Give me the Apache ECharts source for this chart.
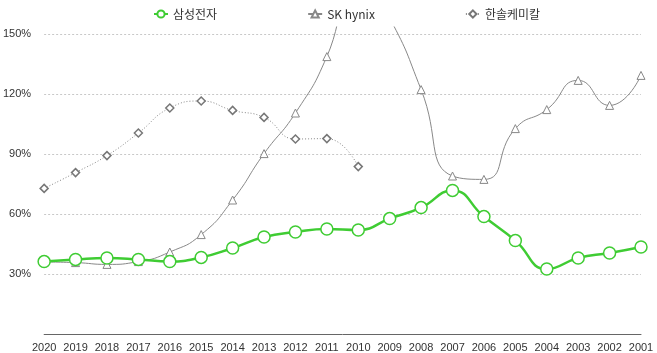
<!DOCTYPE html>
<html>
<head>
<meta charset="utf-8">
<script src="https://cdn.jsdelivr.net/npm/echarts@6/dist/echarts.min.js"></script>
<style>
  html, body { margin: 0; padding: 0; background: #fff; }
  #chart { width: 657px; height: 353px; }
</style>
</head>
<body>
<div id="chart"></div>
<script>
// 연도 (역순)
var years = ['2020','2019','2018','2017','2016','2015','2014','2013','2012','2011',
             '2010','2009','2008','2007','2006','2005','2004','2003','2002','2001'];
var samsung = [36.2, 37.3, 38, 37.3, 36.2, 38.3, 43, 48.5, 51, 52.5,
               52, 57.7, 63.2, 71.8, 58.7, 46.7, 32.5, 38, 40.5, 43.5];
var hynix = [36, 35.7, 34.8, 36.2, 41, 49.7, 67, 90.2, 110.5, 138.7,
             182, 158, 122.2, 79, 77.3, 102.7, 112.2, 126.8, 114.3, 129.3];
var hansol = [72.8, 80.7, 89.2, 100.5, 113, 116.5, 111.8, 108.3, 97.5, 97.7, 83.7];
var yTicks = [0, 30, 60, 90, 120, 150];

var chart = echarts.init(document.getElementById('chart'));
chart.setOption({
  backgroundColor: '#fff',
  animation: false,
  textStyle: { fontFamily: '"Liberation Sans", "Noto Sans CJK KR", sans-serif' },
  legend: {
    top: 3,
    left: 148,
    itemGap: 90,
    itemWidth: 14,
    itemHeight: 9,
    textStyle: { fontSize: 12, color: '#333', fontFamily: '"Noto Sans CJK KR", "Liberation Sans", sans-serif' },
    data: ['삼성전자', 'SK hynix', '한솔케미칼']
  },
  grid: { left: 41, right: 16, top: 27, bottom: 19 },
  xAxis: {
    type: 'category',
    boundaryGap: false,
    data: years,
    axisTick: { show: false },
    axisLine: { lineStyle: { color: '#666', width: 1 } },
    axisLabel: { color: '#333', fontSize: 11, margin: 8, interval: 0 }
  },
  yAxis: {
    type: 'value',
    min: yTicks[0],
    max: 153.5,
    interval: 30,
    axisLine: { show: false },
    axisTick: { show: false },
    axisLabel: {
      color: '#333', fontSize: 11, margin: 13,
      showMinLabel: false, showMaxLabel: false,
      formatter: '{value}%'
    },
    splitLine: {
      showMinLine: false, showMaxLine: false,
      lineStyle: { color: '#c8c8c8', type: [2, 2], width: 1 }
    }
  },
  series: [
    {
      name: '삼성전자',
      type: 'line',
      smooth: 0.5,
      data: samsung,
      symbol: 'circle',
      symbolSize: 12,
      z: 5,
      lineStyle: { color: '#3fcc33', width: 2.5 },
      itemStyle: { color: '#fff', borderColor: '#3fcc33', borderWidth: 1.5 }
    },
    {
      name: 'SK hynix',
      type: 'line',
      smooth: 0.55,
      data: hynix,
      symbol: 'triangle',
      symbolSize: 8,
      z: 3,
      lineStyle: { color: '#888', width: 1 },
      itemStyle: { color: '#fff', borderColor: '#888', borderWidth: 1 }
    },
    {
      name: '한솔케미칼',
      type: 'line',
      smooth: 0.5,
      data: hansol,
      symbol: 'diamond',
      symbolSize: 8,
      z: 4,
      lineStyle: { color: '#888', width: 1, type: [1, 2] },
      itemStyle: { color: '#fff', borderColor: '#777', borderWidth: 1.5 }
    }
  ]
});
</script>
</body>
</html>
